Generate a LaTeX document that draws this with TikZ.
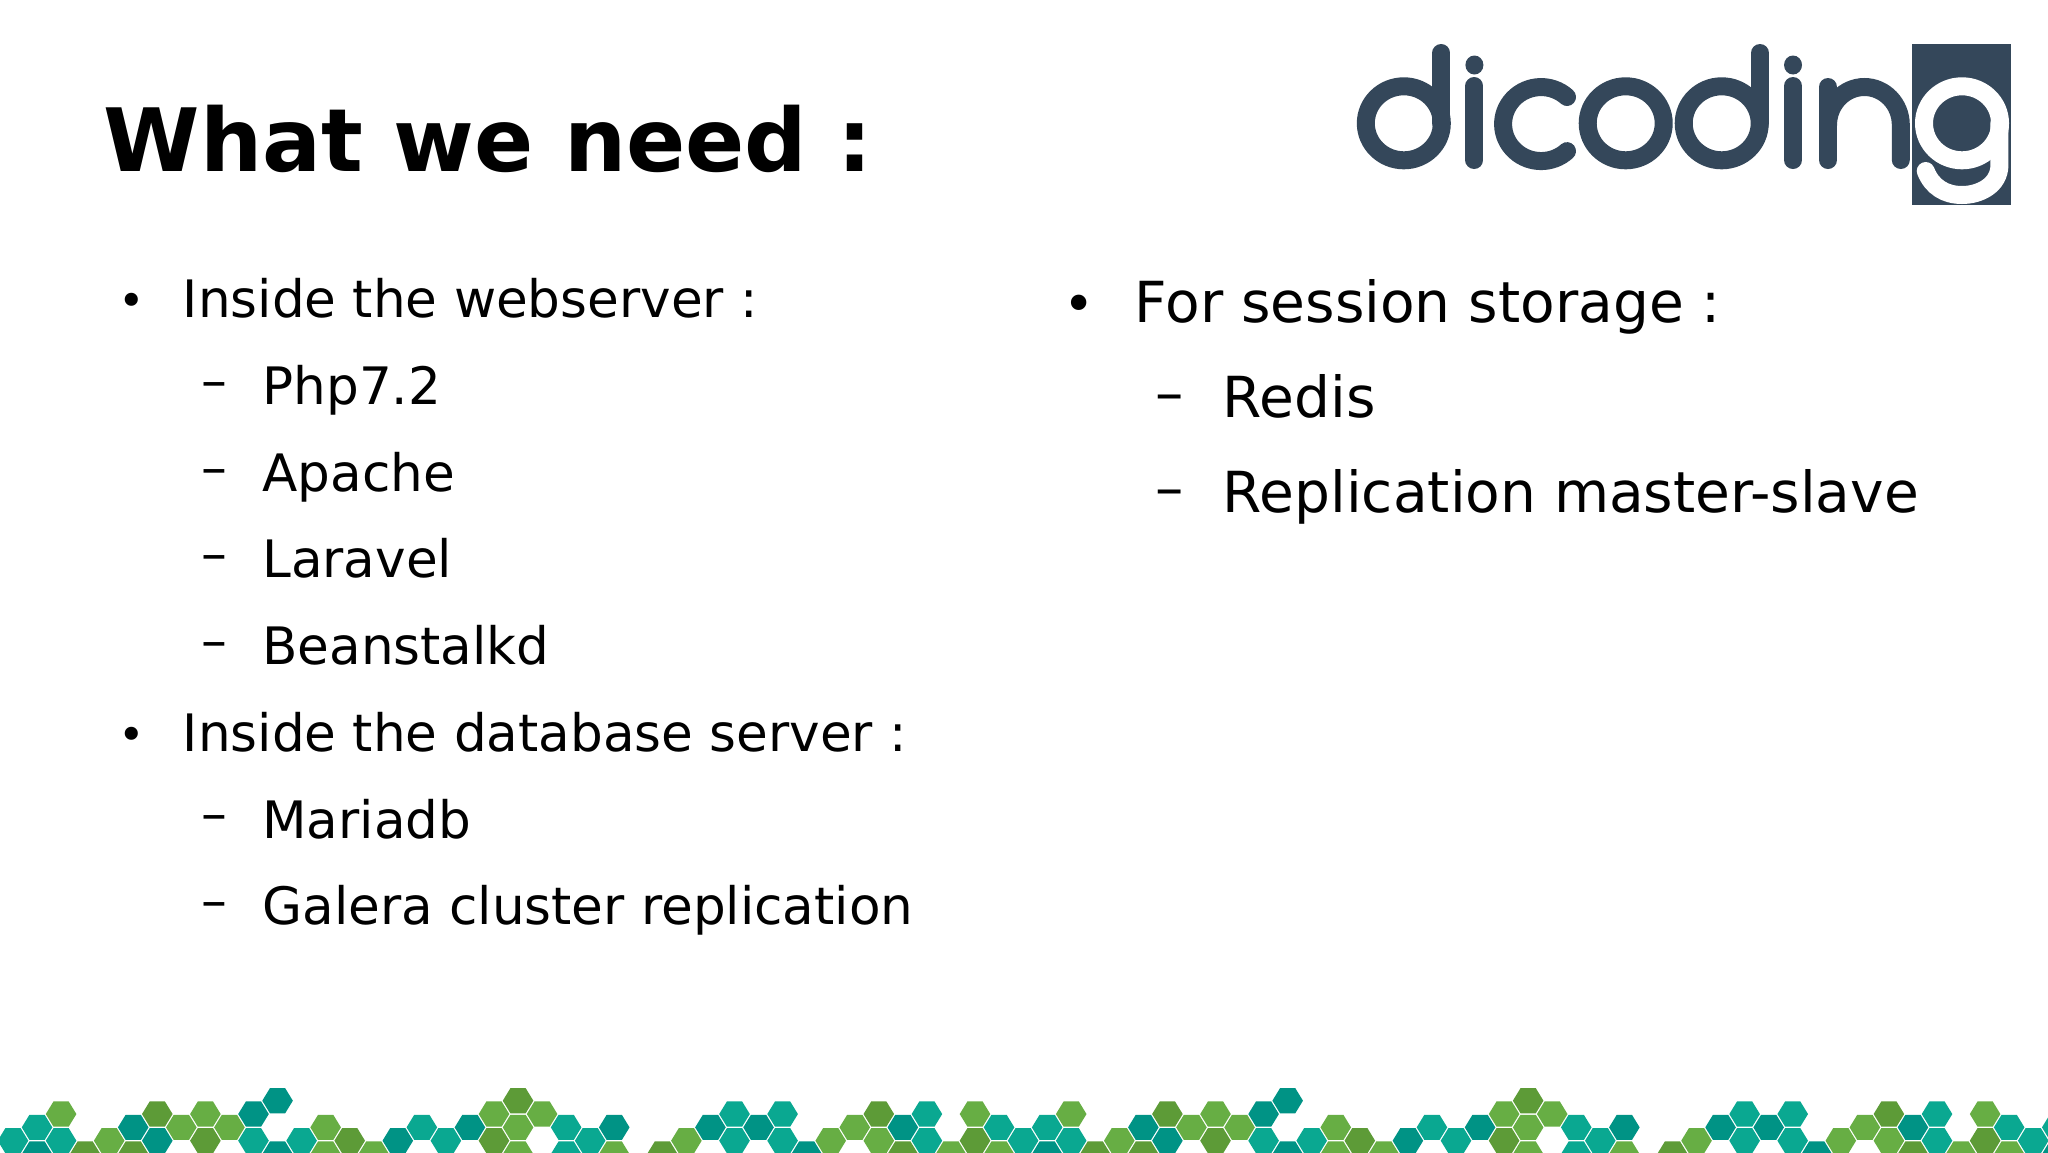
\documentclass[tikz,border=0pt]{standalone}
\usepackage{fontspec}
\setmainfont{DejaVu Sans}
\definecolor{hexteal}{RGB}{10,168,145}
\definecolor{hexdeep}{RGB}{0,147,133}
\definecolor{hexleaf}{RGB}{103,174,68}
\definecolor{hexmoss}{RGB}{93,155,55}
\definecolor{logoslate}{RGB}{52,71,90}
\tikzset{
  heading/.style={anchor=base west,inner sep=0pt,font=\fontsize{43.7}{44}\selectfont\bfseries},
  lefttext/.style={anchor=base west,inner sep=0pt,font=\fontsize{25.8}{26}\selectfont},
  righttext/.style={anchor=base west,inner sep=0pt,font=\fontsize{28.3}{28}\selectfont},
  leftmark/.style={anchor=base west,inner sep=0pt,font=\fontsize{22.5}{22}\selectfont},
  rightmark/.style={anchor=base west,inner sep=0pt,font=\fontsize{26.5}{26}\selectfont},
  logostroke/.style={draw=logoslate,line width=9pt,line cap=round},
  gstroke/.style={draw=white,line width=9pt,line cap=round}
}
\newcommand{\hexcell}[3]{\fill [#3, shift={({13+24.05*#1},{-1100.7-13.33*#2})}] (-15.3,0) -- (-7.6,12.6) -- (7.6,12.6) -- (15.3,0) -- (7.6,-12.6) -- (-7.6,-12.6) -- cycle;}
\begin{document}
\begin{tikzpicture}[x=0.5pt,y=0.5pt]
    \clip (0,0) rectangle (2048,-1152);
    \fill [white] (0,0) rectangle (2048,-1152);
    % title and lists
    \node [heading] (title) at (103.5,-171.5) {What we need :};
    \node [leftmark] (dot1) at (117.7,-316.3) {•};
    \node [lefttext] (web) at (182.5,-317.7) {Inside the webserver :};
    \node [lefttext] (dash1) at (201.5,-398.4) {–};
    \node [lefttext] (php) at (262,-404.3) {Php7.2};
    \node [lefttext] (dash2) at (201.5,-485.1) {–};
    \node [lefttext] (apache) at (262,-491) {Apache};
    \node [lefttext] (dash3) at (201.5,-571.7) {–};
    \node [lefttext] (laravel) at (262,-577.6) {Laravel};
    \node [lefttext] (dash4) at (201.5,-658.3) {–};
    \node [lefttext] (beans) at (262,-664.2) {Beanstalkd};
    \node [leftmark] (dot2) at (117.7,-750) {•};
    \node [lefttext] (dbase) at (182.5,-751.5) {Inside the database server :};
    \node [lefttext] (dash5) at (201.5,-831.6) {–};
    \node [lefttext] (maria) at (262,-838) {Mariadb};
    \node [lefttext] (dash6) at (201.5,-918.2) {–};
    \node [lefttext] (galera) at (262,-924.1) {Galera cluster replication};
    \node [rightmark] (dot3) at (1062.7,-322) {•};
    \node [righttext] (session) at (1134.5,-322.3) {For session storage :};
    \node [righttext] (dash7) at (1155,-412.3) {–};
    \node [righttext] (redis) at (1222.5,-417.3) {Redis};
    \node [righttext] (dash8) at (1155,-507) {–};
    \node [righttext] (replica) at (1222.5,-512) {Replication master-slave};
    % logo
    \draw [logostroke] (1403.8,-123.3) ellipse [x radius=38, y radius=37];
    \draw [logostroke] (1441.3,-53) -- (1441.3,-123);
    \fill [logoslate] (1474.4,-65) ellipse [x radius=9, y radius=9.5];
    \draw [logostroke] (1474.4,-86) -- (1474.4,-160);
    \draw [logostroke] (1567,-97) arc [start angle=47, end angle=313, x radius=38, y radius=37];
    \draw [logostroke] (1625.7,-123.3) ellipse [x radius=38, y radius=37];
    \draw [logostroke] (1721.7,-123.3) ellipse [x radius=38, y radius=37];
    \draw [logostroke] (1760,-53) -- (1760,-123);
    \fill [logoslate] (1793,-65) ellipse [x radius=9, y radius=9.5];
    \draw [logostroke] (1793,-86) -- (1793,-160);
    \draw [logostroke] (1828,-87) -- (1828,-160);
    \draw [logostroke] (1828,-125) arc [start angle=180, end angle=0, x radius=36.4, y radius=38] -- (1900.8,-160);
    \fill [logoslate] (1912,-44) rectangle (2011.4,-205);
    \draw [gstroke] (1962,-123.3) ellipse [x radius=38, y radius=37];
    \draw [gstroke] (1999.4,-123) -- (1999.4,-165) .. controls (1999.4,-185) and (1980,-195) .. (1962,-195) .. controls (1945,-195) and (1932,-187) .. (1925.7,-171);
    % hexagon band, 42 columns and then it repeats
    \foreach \period in {0,1,2} {
    \begin{scope}[shift={(1010.1*\period,0)}]
        \hexcell{0}{3}{hexteal}
        \hexcell{1}{2}{hexteal}
        \hexcell{1}{4}{hexdeep}
        \hexcell{2}{1}{hexleaf}
        \hexcell{2}{3}{hexteal}
        \hexcell{3}{4}{hexmoss}
        \hexcell{4}{3}{hexleaf}
        \hexcell{5}{2}{hexdeep}
        \hexcell{5}{4}{hexmoss}
        \hexcell{6}{1}{hexmoss}
        \hexcell{6}{3}{hexdeep}
        \hexcell{7}{2}{hexleaf}
        \hexcell{8}{1}{hexleaf}
        \hexcell{8}{3}{hexmoss}
        \hexcell{9}{2}{hexleaf}
        \hexcell{10}{1}{hexdeep}
        \hexcell{10}{3}{hexteal}
        \hexcell{11}{0}{hexdeep}
        \hexcell{11}{4}{hexdeep}
        \hexcell{12}{3}{hexteal}
        \hexcell{13}{2}{hexleaf}
        \hexcell{13}{4}{hexleaf}
        \hexcell{14}{3}{hexmoss}
        \hexcell{15}{4}{hexleaf}
        \hexcell{16}{3}{hexdeep}
        \hexcell{17}{2}{hexteal}
        \hexcell{18}{3}{hexteal}
        \hexcell{19}{2}{hexdeep}
        \hexcell{20}{1}{hexleaf}
        \hexcell{20}{3}{hexmoss}
        \hexcell{21}{0}{hexmoss}
        \hexcell{21}{2}{hexleaf}
        \hexcell{21}{4}{hexleaf}
        \hexcell{22}{1}{hexleaf}
        \hexcell{23}{2}{hexteal}
        \hexcell{23}{4}{hexteal}
        \hexcell{24}{3}{hexteal}
        \hexcell{25}{2}{hexdeep}
        \hexcell{25}{4}{hexleaf}
        \hexcell{27}{4}{hexmoss}
        \hexcell{28}{3}{hexleaf}
        \hexcell{29}{2}{hexdeep}
        \hexcell{30}{1}{hexteal}
        \hexcell{30}{3}{hexteal}
        \hexcell{31}{2}{hexdeep}
        \hexcell{32}{1}{hexteal}
        \hexcell{32}{3}{hexteal}
        \hexcell{33}{4}{hexdeep}
        \hexcell{34}{3}{hexleaf}
        \hexcell{35}{2}{hexleaf}
        \hexcell{36}{1}{hexmoss}
        \hexcell{36}{3}{hexleaf}
        \hexcell{37}{2}{hexdeep}
        \hexcell{37}{4}{hexmoss}
        \hexcell{38}{1}{hexteal}
        \hexcell{38}{3}{hexteal}
        \hexcell{39}{4}{hexleaf}
        \hexcell{40}{1}{hexleaf}
        \hexcell{40}{3}{hexmoss}
        \hexcell{41}{2}{hexteal}
        \hexcell{41}{4}{hexleaf}
    \end{scope}
    }
\end{tikzpicture}
\end{document}
